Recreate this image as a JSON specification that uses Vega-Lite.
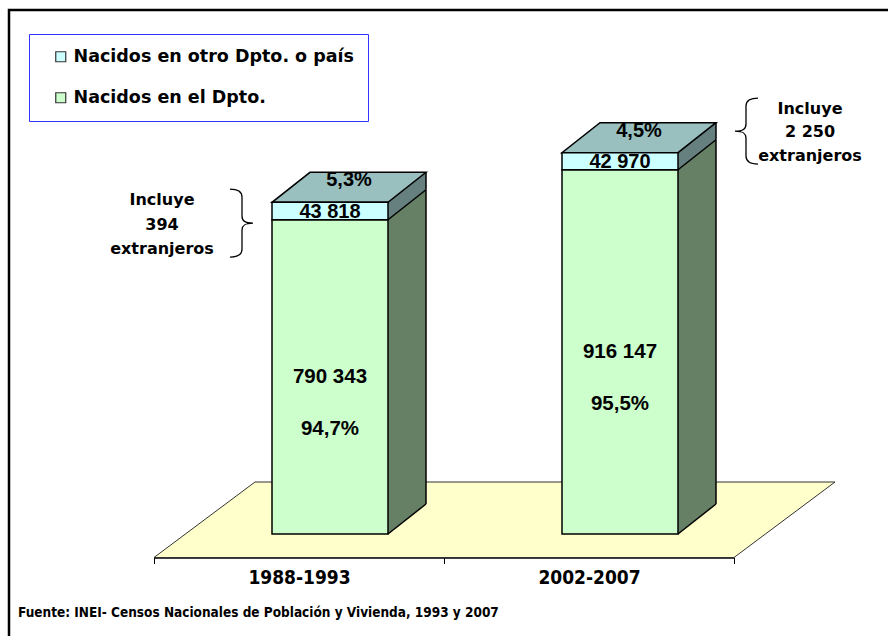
{
  "$schema": "https://vega.github.io/schema/vega-lite/v6.json",
  "width": 900,
  "height": 640,
  "autosize": {"type": "none"},
  "padding": {"left": 9, "top": 10, "right": -21, "bottom": -14},
  "background": "white",
  "config": {
    "view": {"stroke": "black", "strokeWidth": 2.5, "fill": "white"},
    "locale": {"number": {"decimal": ",", "thousands": " ", "grouping": [3], "currency": ["", ""]}}
  },
  "title": {
    "text": "Fuente: INEI- Censos Nacionales de Población y Vivienda, 1993 y 2007",
    "orient": "bottom", "anchor": "start", "frame": "group", "offset": -44, "dx": 9,
    "font": "Liberation Sans Narrow, DejaVu Sans Condensed, sans-serif", "fontSize": 13.5, "fontWeight": "bold", "color": "black"
  },
  "data": {"values": [
    {"periodo": "1988-1993", "grupo": "Nacidos en el Dpto.", "orden": 1, "valor": 790343, "pct": 0.947},
    {"periodo": "1988-1993", "grupo": "Nacidos en otro Dpto. o país", "orden": 2, "valor": 43818, "pct": 0.053, "nota": "Incluye\n394\nextranjeros"},
    {"periodo": "2002-2007", "grupo": "Nacidos en el Dpto.", "orden": 1, "valor": 916147, "pct": 0.955},
    {"periodo": "2002-2007", "grupo": "Nacidos en otro Dpto. o país", "orden": 2, "valor": 42970, "pct": 0.045, "nota": "Incluye\n2 250\nextranjeros"}
  ]},
  "transform": [
    {"stack": "valor", "groupby": ["periodo"], "sort": [{"field": "orden", "order": "ascending"}], "as": ["v0", "v1"]},
    {"calculate": "(datum.v0 + datum.v1) / 2", "as": "vmid"}
  ],
  "encoding": {
    "x": {"field": "periodo", "type": "nominal",
      "scale": {"type": "band", "domain": ["1988-1993", "2002-2007"], "range": [145, 725], "paddingInner": 0, "paddingOuter": 0},
      "axis": {"title": null, "orient": "bottom", "offset": -92.5, "domainColor": "black", "domainWidth": 1.5, "tickColor": "black", "tickWidth": 1, "tickSize": 6, "tickBand": "extent", "labelFont": "Liberation Sans Narrow, DejaVu Sans Condensed, sans-serif", "labelFontWeight": "bold", "labelFontSize": 19, "labelColor": "black", "labelPadding": 5, "labelAngle": 0, "grid": false}}
  },
  "layer": [
    {
      "data": {"values": [{"periodo": "1988-1993"}]},
      "mark": {"type": "point", "shape": "M-145,23.5L435,23.5L536,-52L-44,-52Z", "size": 4, "filled": true, "fill": "#FFFFCC", "stroke": "#333333", "strokeWidth": 1, "opacity": 1},
      "encoding": {
        "y": {"datum": 0, "type": "quantitative", "scale": {"domain": [0, 1000000], "range": [524, 126.4], "nice": false, "zero": true}, "axis": null}
      }
    },
    {
      "mark": {"type": "bar", "width": 38, "xOffset": 108, "yOffset": -30, "strokeWidth": 0},
      "encoding": {
        "y": {"field": "v1", "type": "quantitative", "scale": {"domain": [0, 1000000], "range": [524, 126.4], "nice": false, "zero": true}, "axis": null},
        "y2": {"field": "v0"},
        "fill": {"condition": {"test": "datum.orden === 2", "value": "#668080"}, "value": "#668066"},
        "order": {"field": "orden", "type": "quantitative"}
      }
    },
    {
      "mark": {"type": "point", "shape": "M0,0L38,0L38,-30Z", "size": 4, "filled": true, "opacity": 1, "strokeWidth": 0, "xOffset": 89},
      "encoding": {
        "y": {"field": "v0", "type": "quantitative", "scale": {"domain": [0, 1000000], "range": [524, 126.4], "nice": false, "zero": true}, "axis": null},
        "fill": {"condition": {"test": "datum.orden === 2", "value": "#668066"}, "value": "#FFFFCC"}
      }
    },
    {
      "mark": {"type": "point", "shape": "M0,0L38,-30", "size": 4, "filled": false, "opacity": 1, "stroke": "black", "strokeWidth": 1.5, "xOffset": 89},
      "encoding": {
        "y": {"field": "v0", "type": "quantitative", "scale": {"domain": [0, 1000000], "range": [524, 126.4], "nice": false, "zero": true}, "axis": null}
      }
    },
    {
      "mark": {"type": "rule", "xOffset": 127, "yOffset": -30, "y2Offset": -30, "stroke": "black", "strokeWidth": 1.5},
      "encoding": {
        "y": {"field": "v1", "type": "quantitative", "scale": {"domain": [0, 1000000], "range": [524, 126.4], "nice": false, "zero": true}, "axis": null},
        "y2": {"field": "v0"}
      }
    },
    {
      "transform": [{"filter": "datum.orden === 2"}],
      "mark": {"type": "point", "shape": "M-58,0L58,0L96,-30L-20,-30Z", "size": 4, "filled": true, "fill": "#99BFBF", "stroke": "black", "strokeWidth": 1.5, "opacity": 1, "xOffset": 31},
      "encoding": {
        "y": {"field": "v1", "type": "quantitative", "scale": {"domain": [0, 1000000], "range": [524, 126.4], "nice": false, "zero": true}, "axis": null}
      }
    },
    {
      "mark": {"type": "bar", "width": 116, "xOffset": 31, "stroke": "black", "strokeWidth": 1.5, "opacity": 1},
      "encoding": {
        "y": {"field": "v1", "type": "quantitative", "scale": {"domain": [0, 1000000], "range": [524, 126.4], "nice": false, "zero": true}, "axis": null},
        "y2": {"field": "v0"},
        "color": {"field": "grupo", "type": "nominal",
          "scale": {"domain": ["Nacidos en otro Dpto. o país", "Nacidos en el Dpto."], "range": ["#CCFFFF", "#CCFFCC"]},
          "legend": {"orient": "none", "legendX": 20, "legendY": 24, "direction": "vertical", "title": null, "padding": 14, "strokeColor": "#3333FF", "fillColor": "white", "symbolType": "square", "symbolSize": 100, "symbolStrokeColor": "#333333", "symbolStrokeWidth": 1.2, "symbolOffset": 9, "symbolOpacity": 1, "labelOffset": 4, "labelFont": "DejaVu Sans", "labelFontWeight": "bold", "labelFontSize": 17.5, "labelColor": "black", "rowPadding": 22, "labelLimit": 500}
        }
      }
    },
    {
      "transform": [{"filter": "datum.orden === 1"}],
      "mark": {"type": "text", "xOffset": 31, "font": "Liberation Sans", "fontWeight": "bold", "fontSize": 20.5, "baseline": "middle", "align": "center", "color": "black"},
      "encoding": {
        "y": {"field": "vmid", "type": "quantitative", "scale": {"domain": [0, 1000000], "range": [524, 126.4], "nice": false, "zero": true}, "axis": null},
        "text": {"field": "valor", "type": "quantitative", "format": ",d"}
      }
    },
    {
      "transform": [{"filter": "datum.orden === 1"}],
      "mark": {"type": "text", "xOffset": 31, "yOffset": 52, "font": "Liberation Sans", "fontWeight": "bold", "fontSize": 20.5, "baseline": "middle", "align": "center", "color": "black"},
      "encoding": {
        "y": {"field": "vmid", "type": "quantitative", "scale": {"domain": [0, 1000000], "range": [524, 126.4], "nice": false, "zero": true}, "axis": null},
        "text": {"field": "pct", "type": "quantitative", "format": ".1%"}
      }
    },
    {
      "transform": [{"filter": "datum.orden === 2"}],
      "mark": {"type": "text", "xOffset": 31, "yOffset": 9.5, "font": "Liberation Sans", "fontWeight": "bold", "fontSize": 20, "baseline": "middle", "align": "center", "color": "black"},
      "encoding": {
        "y": {"field": "v1", "type": "quantitative", "scale": {"domain": [0, 1000000], "range": [524, 126.4], "nice": false, "zero": true}, "axis": null},
        "text": {"field": "valor", "type": "quantitative", "format": ",d"}
      }
    },
    {
      "transform": [{"filter": "datum.orden === 2"}],
      "mark": {"type": "text", "xOffset": 50, "yOffset": -22, "font": "Liberation Sans", "fontWeight": "bold", "fontSize": 20, "baseline": "middle", "align": "center", "color": "black"},
      "encoding": {
        "y": {"field": "v1", "type": "quantitative", "scale": {"domain": [0, 1000000], "range": [524, 126.4], "nice": false, "zero": true}, "axis": null},
        "text": {"field": "pct", "type": "quantitative", "format": ".1%"}
      }
    },
    {
      "transform": [{"filter": "datum.orden === 2 && datum.periodo === '1988-1993'"}],
      "mark": {"type": "text", "xOffset": -137, "yOffset": -2, "lineBreak": "\n", "lineHeight": 24.5, "font": "DejaVu Sans", "fontWeight": "bold", "fontSize": 16, "baseline": "middle", "align": "center", "color": "black"},
      "encoding": {
        "y": {"field": "v1", "type": "quantitative", "scale": {"domain": [0, 1000000], "range": [524, 126.4], "nice": false, "zero": true}, "axis": null},
        "text": {"field": "nota", "type": "nominal"}
      }
    },
    {
      "transform": [{"filter": "datum.orden === 2 && datum.periodo === '2002-2007'"}],
      "mark": {"type": "text", "xOffset": 221, "yOffset": -44, "lineBreak": "\n", "lineHeight": 23.5, "font": "DejaVu Sans", "fontWeight": "bold", "fontSize": 16, "baseline": "middle", "align": "center", "color": "black"},
      "encoding": {
        "y": {"field": "v1", "type": "quantitative", "scale": {"domain": [0, 1000000], "range": [524, 126.4], "nice": false, "zero": true}, "axis": null},
        "text": {"field": "nota", "type": "nominal"}
      }
    },
    {
      "transform": [{"filter": "datum.orden === 2 && datum.periodo === '1988-1993'"}],
      "mark": {"type": "point", "shape": "M-23,-34C-16,-34 -11,-32 -11,-26L-11,-7C-11,-2 -8,0 0,0C-8,0 -11,2 -11,7L-11,26C-11,32 -16,34 -23,34", "size": 4, "filled": false, "opacity": 1, "stroke": "black", "strokeWidth": 1.3, "xOffset": -46, "yOffset": 20.7},
      "encoding": {
        "y": {"field": "v1", "type": "quantitative", "scale": {"domain": [0, 1000000], "range": [524, 126.4], "nice": false, "zero": true}, "axis": null}
      }
    },
    {
      "transform": [{"filter": "datum.orden === 2 && datum.periodo === '2002-2007'"}],
      "mark": {"type": "point", "shape": "M23,-33C16,-33 11,-31 11,-25L11,-7C11,-2 8,0 0,0C8,0 11,2 11,7L11,25C11,31 16,33 23,33", "size": 4, "filled": false, "opacity": 1, "stroke": "black", "strokeWidth": 1.3, "xOffset": 146, "yOffset": -21.6},
      "encoding": {
        "y": {"field": "v1", "type": "quantitative", "scale": {"domain": [0, 1000000], "range": [524, 126.4], "nice": false, "zero": true}, "axis": null}
      }
    }
  ]
}
